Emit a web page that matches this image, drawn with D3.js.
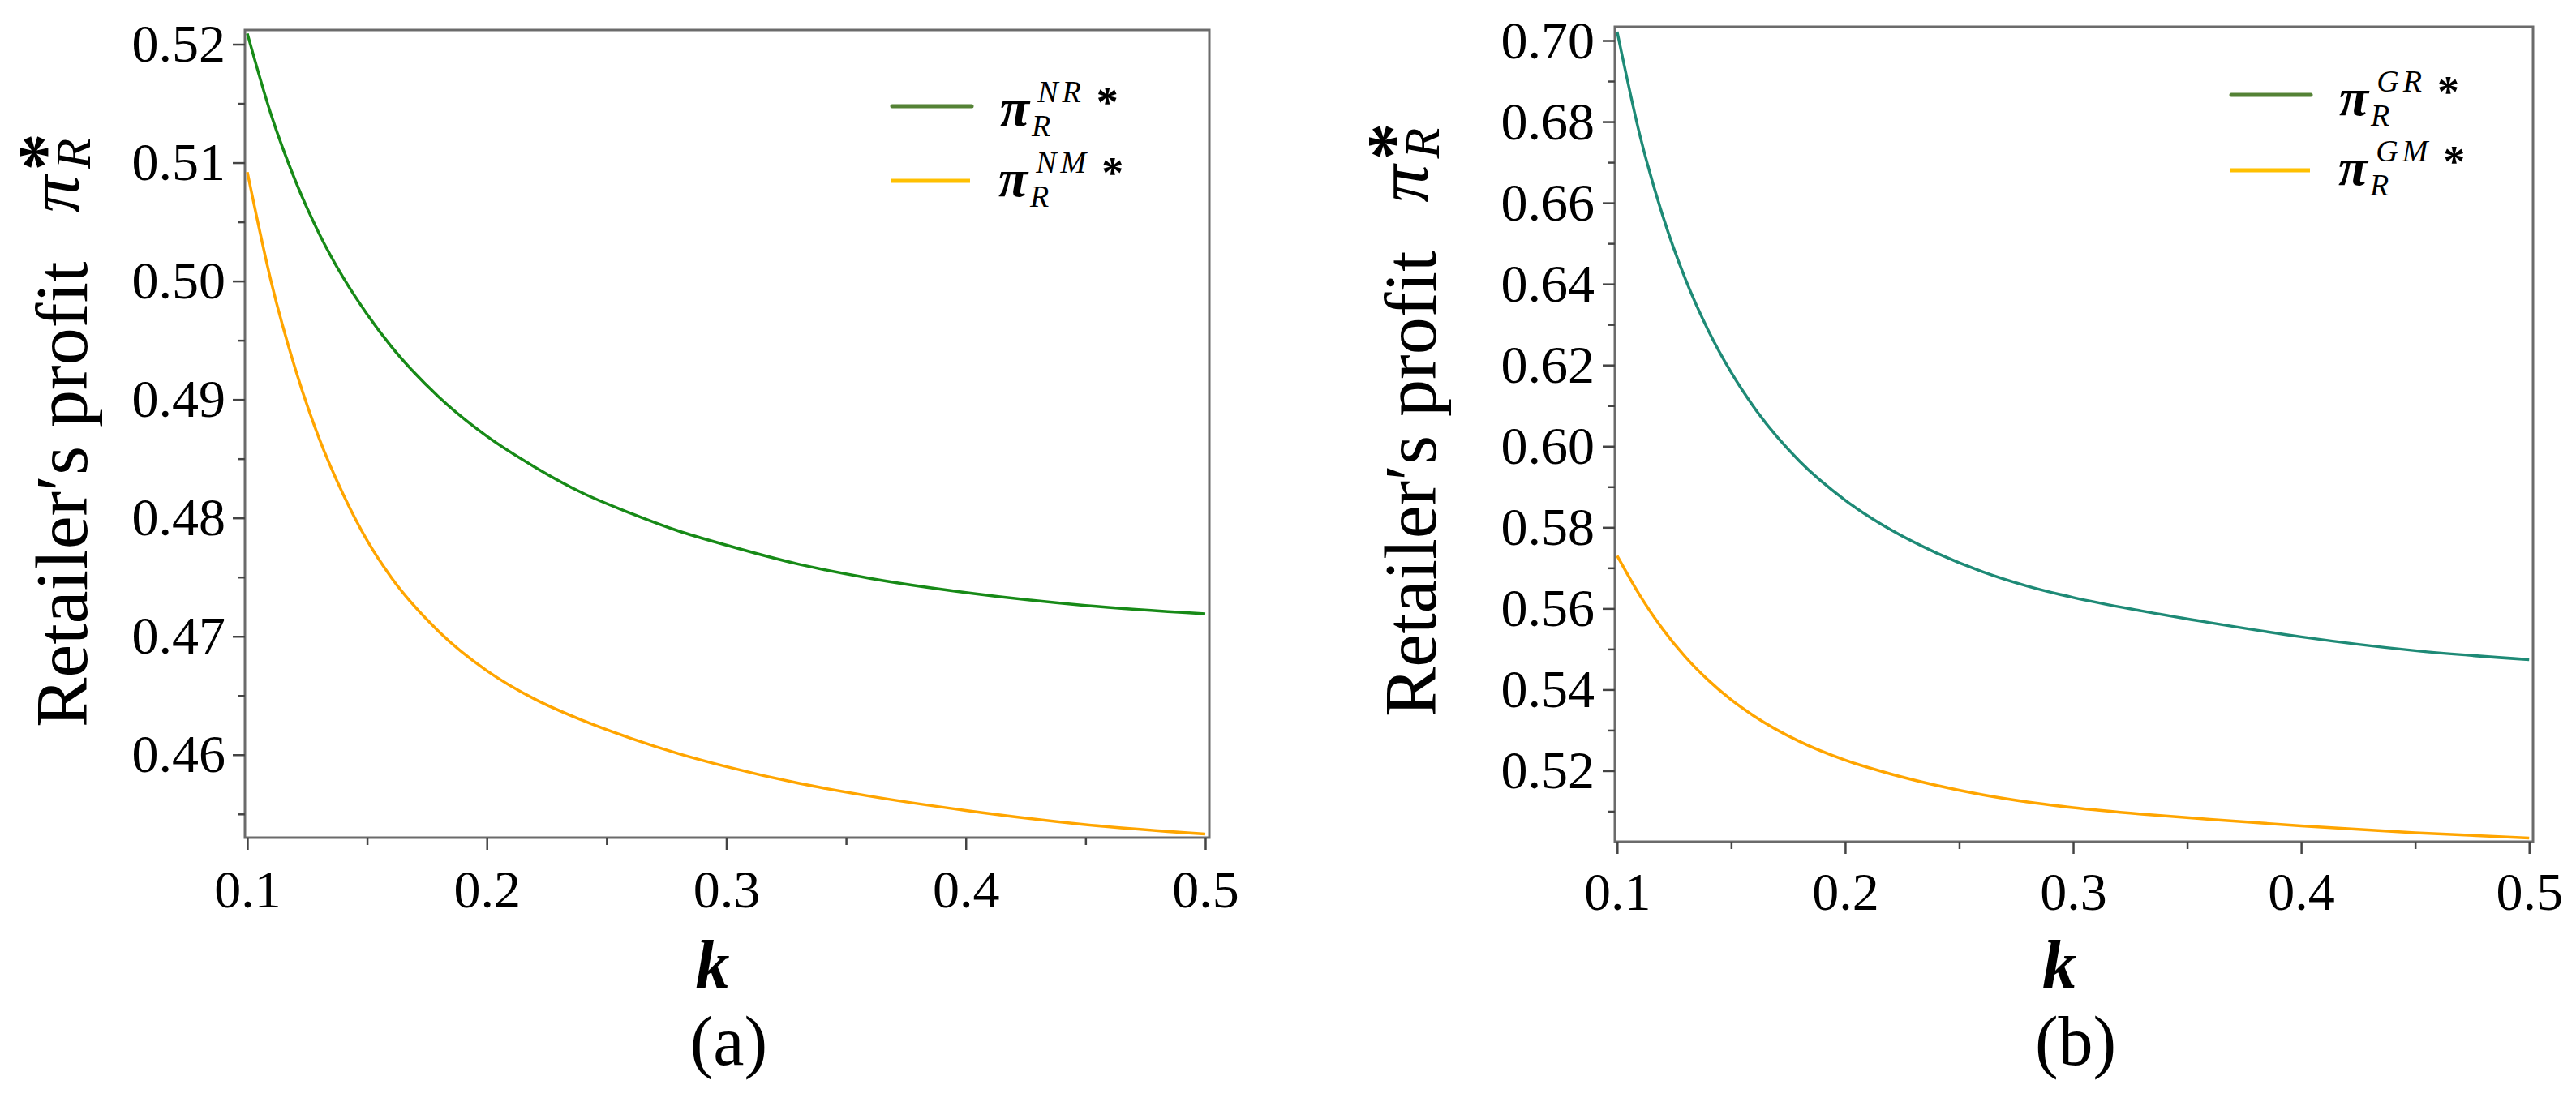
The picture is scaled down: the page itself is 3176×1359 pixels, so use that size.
<!DOCTYPE html>
<html lang="en">
<head>
    <meta charset="UTF-8">
    <title>Retailer's profit vs k</title>
    <style>
        body { margin: 0; background: #fff; }
        svg { display: block; }
        .tick line { stroke: #444; stroke-width: 2.5px; }
        .domain { display: none; }
        .frame { fill: none; stroke: #6b6b6b; stroke-width: 3px; }
        .curve { fill: none; stroke-width: 3.5px; }
    </style>
    <script src="https://d3js.org/d3.v7.min.js"></script>
</head>
<body>
    <svg width="3176" height="1359"></svg>

    <script>
        const SERIF = '"Liberation Serif", "Times New Roman", serif';

        // values
        const kValues = [0.10, 0.11, 0.12, 0.13, 0.14, 0.15, 0.16, 0.18, 0.20, 0.22,
                         0.24, 0.26, 0.28, 0.30, 0.33, 0.36, 0.40, 0.45, 0.50];

        // panel (a)
        const profitNR = [0.5209, 0.5140, 0.5085, 0.5040, 0.5003, 0.4972, 0.4945, 0.4902, 0.4869, 0.4843,
                          0.4821, 0.4804, 0.4789, 0.4777, 0.4761, 0.4749, 0.4737, 0.4726, 0.4719];
        const profitNM = [0.5092, 0.4999, 0.4926, 0.4867, 0.4820, 0.4781, 0.4750, 0.4704, 0.4671, 0.4647,
                          0.4629, 0.4614, 0.4601, 0.4590, 0.4576, 0.4565, 0.4553, 0.4541, 0.4533];

        // panel (b)
        const profitGR = [0.7022, 0.6766, 0.6568, 0.6411, 0.6285, 0.6182, 0.6096, 0.5963, 0.5867, 0.5794,
                          0.5737, 0.5691, 0.5655, 0.5627, 0.5594, 0.5565, 0.5530, 0.5496, 0.5474];
        const profitGM = [0.5730, 0.5632, 0.5549, 0.5480, 0.5423, 0.5375, 0.5335, 0.5272, 0.5226, 0.5192,
                          0.5164, 0.5141, 0.5123, 0.5109, 0.5093, 0.5080, 0.5064, 0.5047, 0.5034];

        // tick labels
        const kTicks = [0.1, 0.2, 0.3, 0.4, 0.5];
        const kMinorTicks = [0.15, 0.25, 0.35, 0.45];
        const leftYTicks = [0.46, 0.47, 0.48, 0.49, 0.50, 0.51, 0.52];
        const leftYMinorTicks = [0.455, 0.465, 0.475, 0.485, 0.495, 0.505, 0.515];
        const rightYTicks = [0.52, 0.54, 0.56, 0.58, 0.60, 0.62, 0.64, 0.66, 0.68, 0.70];
        const rightYMinorTicks = [0.51, 0.53, 0.55, 0.57, 0.59, 0.61, 0.63, 0.65, 0.67, 0.69];

        const leftSeries = ["NR", "NM"];
        const rightSeries = ["GR", "GM"];
        const panelTags = ["(a)", "(b)"];

        const svg = d3.select("svg");

        function drawPanel(p) {
            const g = svg.append("g");

            const x = d3.scaleLinear().domain([0.099, 0.5017]).range([p.left, p.right]);
            const y = d3.scaleLinear().domain(p.yDomain).range([p.bottom, p.top]);

            // frame box
            g.append("rect")
                .attr("class", "frame")
                .attr("x", x(0.099))
                .attr("y", y(p.yDomain[1]))
                .attr("width", x(0.5017) - x(0.099))
                .attr("height", y(p.yDomain[0]) - y(p.yDomain[1]));

            // x axis, major and minor
            const xAxis = g.append("g")
                .attr("transform", "translate(0," + p.bottom + ")")
                .call(d3.axisBottom(x).tickValues(kTicks).tickSize(15).tickPadding(p.xPad)
                    .tickFormat(d3.format(".1f")));
            xAxis.selectAll("text").style("font-size", "66px");
            g.append("g")
                .attr("transform", "translate(0," + p.bottom + ")")
                .call(d3.axisBottom(x).tickValues(kMinorTicks).tickSize(9).tickFormat(""));

            // y axis, major and minor
            const yAxis = g.append("g")
                .attr("transform", "translate(" + p.left + ",0)")
                .call(d3.axisLeft(y).tickValues(p.yTicks).tickSize(15).tickPadding(p.yPad)
                    .tickFormat(d3.format(".2f")));
            yAxis.selectAll("text").style("font-size", "66px");
            g.append("g")
                .attr("transform", "translate(" + p.left + ",0)")
                .call(d3.axisLeft(y).tickValues(p.yMinor).tickSize(9).tickFormat(""));

            // curves
            const line = d3.line()
                .x(d => x(d[0]))
                .y(d => y(d[1]))
                .curve(d3.curveMonotoneX);

            p.series.forEach(s => {
                g.append("path")
                    .datum(d3.zip(kValues, s.values))
                    .attr("class", "curve")
                    .attr("stroke", s.color)
                    .attr("d", line);
            });

            // legend: sample line + pi_R^{label}*
            p.series.forEach((s, i) => {
                const lg = p.legend[i];
                g.append("line")
                    .attr("x1", lg.x).attr("x2", lg.x + 98)
                    .attr("y1", lg.y).attr("y2", lg.y)
                    .attr("stroke", s.legendColor)
                    .attr("stroke-width", 5)
                    .attr("stroke-linecap", i === 0 ? "round" : "butt");
                const t = g.append("text")
                    .attr("x", lg.x + 133)
                    .attr("y", lg.y + lg.dy)
                    .style("font-style", "italic");
                t.append("tspan").style("font-size", "66px").style("font-weight", "bold").text("π");
                t.append("tspan").attr("dx", 3).attr("dy", 13).style("font-size", "38px").text("R");
                t.append("tspan").attr("dx", -16).attr("dy", -42).style("font-size", "38px")
                    .style("letter-spacing", "5px").text(s.label);
                t.append("tspan").attr("dx", 14).attr("dy", 18).style("font-size", "54px")
                    .style("font-style", "normal").style("font-weight", "bold").text("*");
            });

            // y axis title, rotated
            const yt = g.append("text")
                .attr("transform", "translate(" + p.titleX + ",520) rotate(-90)")
                .attr("x", p.titleStart).attr("y", 0)
                .style("font-size", "92px");
            yt.append("tspan").text("Retailer\u2032s profit");
            yt.append("tspan").attr("dx", 60).attr("dy", -10).style("font-style", "italic").text("π");
            yt.append("tspan").attr("dx", 8).attr("dy", 14).style("font-style", "italic")
                .style("font-size", "62px").text("R");
            yt.append("tspan").attr("dx", -40).attr("dy", -26).style("font-weight", "bold").text("*");

            // x axis title and panel tag
            const mid = (x(0.1) + x(0.5)) / 2;
            g.append("text")
                .attr("x", mid - 17).attr("y", 1218)
                .attr("text-anchor", "middle")
                .style("font-size", "84px").style("font-style", "italic").style("font-weight", "bold")
                .text("k");
            g.append("text")
                .attr("x", mid + 3).attr("y", 1313)
                .attr("text-anchor", "middle")
                .style("font-size", "86px")
                .text(p.tag);
        }

        drawPanel({
            left: 302, right: 1491, top: 37, bottom: 1033,
            yDomain: [0.4530, 0.5212],
            yTicks: leftYTicks, yMinor: leftYMinorTicks,
            xPad: 24, yPad: 9,
            series: [
                {label: leftSeries[0], values: profitNR, color: "#178a17", legendColor: "#548235"},
                {label: leftSeries[1], values: profitNM, color: "#ffa500", legendColor: "#ffc000"}
            ],
            legend: [{x: 1100, y: 131, dy: 24}, {x: 1098, y: 223, dy: 19}],
            titleX: 107, titleStart: -377,
            tag: panelTags[0]
        });

        drawPanel({
            left: 1991, right: 3123, top: 33, bottom: 1038,
            yDomain: [0.5025, 0.7034],
            yTicks: rightYTicks, yMinor: rightYMinorTicks,
            xPad: 22, yPad: 10,
            series: [
                {label: rightSeries[0], values: profitGR, color: "#1e8a76", legendColor: "#548235"},
                {label: rightSeries[1], values: profitGM, color: "#ffa500", legendColor: "#ffc000"}
            ],
            legend: [{x: 2751, y: 117, dy: 25}, {x: 2750, y: 210, dy: 18}],
            titleX: 1770, titleStart: -364,
            tag: panelTags[1]
        });

        // serif everywhere, overriding the axis default
        svg.selectAll("text").style("font-family", SERIF).style("fill", "#000");
    </script>
</body>
</html>
